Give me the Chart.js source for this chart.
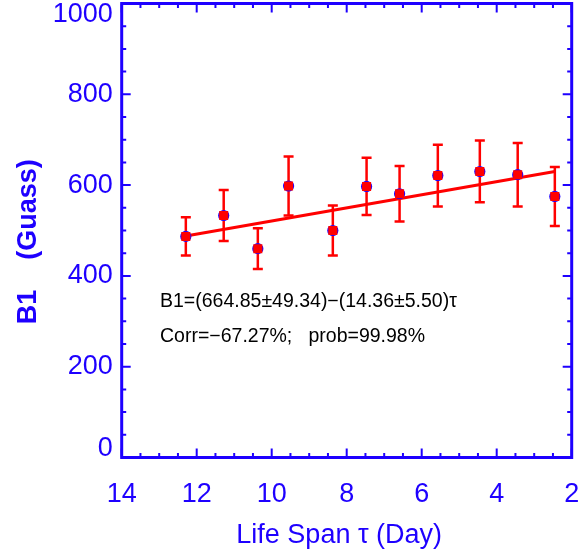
<!DOCTYPE html>
<html>
<head>
<meta charset="utf-8">
<script src="https://cdn.jsdelivr.net/npm/chart.js@4"></script>
<style>
html,body{margin:0;padding:0;background:#fff;}
canvas{display:block;}
</style>
</head>
<body>
<canvas id="c" width="584" height="558"></canvas>
<script>
// ---- data ----
const lifeSpan = [12.29, 11.28, 10.37, 9.55, 8.37, 7.47, 6.59, 5.57, 4.45, 3.44, 2.45];
const b1Values = [487, 533, 460, 598, 500, 597, 581, 621, 630, 623, 575];
const b1Errors = [42, 56, 45, 65, 55, 63, 61, 68, 68, 70, 65];
const fitX = [12.29, 2.45];
const fitY = [488, 630];
const yTicks = [0, 200, 400, 600, 800, 1000];
const xTicks = [14, 12, 10, 8, 6, 4, 2];
const fitText = 'B1=(664.85\u00b149.34)\u2212(14.36\u00b15.50)\u03c4';
const corrText = 'Corr=\u221267.27%;   prob=99.98%';

const BLUE = 'rgb(30,0,255)';
const RED = 'rgb(255,0,0)';
const FONT = "'Liberation Sans', Arial, sans-serif";

const pts = lifeSpan.map((x, i) => ({x: x, y: b1Values[i]}));

function zeroPad(s) { s.paddingTop = 0; s.paddingBottom = 0; s.paddingLeft = 0; s.paddingRight = 0; }

const decor = {
  id: 'decor',
  beforeDatasetsDraw(chart) {
    const {ctx} = chart;
    const xs = chart.scales.x, ys = chart.scales.y;
    ctx.save();
    ctx.strokeStyle = RED;
    ctx.lineWidth = 2.5;
    lifeSpan.forEach((x, i) => {
      const px = xs.getPixelForValue(x);
      const top = ys.getPixelForValue(b1Values[i] + b1Errors[i]);
      const bot = ys.getPixelForValue(b1Values[i] - b1Errors[i]);
      ctx.beginPath();
      ctx.moveTo(px, top); ctx.lineTo(px, bot);
      ctx.moveTo(px - 5, top); ctx.lineTo(px + 5, top);
      ctx.moveTo(px - 5, bot); ctx.lineTo(px + 5, bot);
      ctx.stroke();
    });
    ctx.restore();
  },
  afterDraw(chart) {
    const {ctx, chartArea: a} = chart;
    const xs = chart.scales.x, ys = chart.scales.y;
    ctx.save();
    ctx.strokeStyle = BLUE;
    ctx.lineWidth = 2;
    ctx.beginPath();
    for (let v = 0; v <= 1000; v += 50) {
      const len = (v % 200 === 0) ? 9 : 4.5;
      const py = ys.getPixelForValue(v);
      ctx.moveTo(a.left, py); ctx.lineTo(a.left + len, py);
      ctx.moveTo(a.right, py); ctx.lineTo(a.right - len, py);
    }
    for (let v = 2; v <= 14.001; v += 0.5) {
      const len = (Math.abs(v % 2) < 1e-6) ? 9 : 4.5;
      const px = xs.getPixelForValue(v);
      ctx.moveTo(px, a.bottom); ctx.lineTo(px, a.bottom - len);
      ctx.moveTo(px, a.top); ctx.lineTo(px, a.top + len);
    }
    ctx.stroke();
    ctx.lineWidth = 3;
    ctx.strokeRect(a.left, a.top, a.right - a.left, a.bottom - a.top);
    ctx.fillStyle = '#000';
    ctx.font = '19.5px ' + FONT;
    ctx.textBaseline = 'middle';
    ctx.textAlign = 'left';
    ctx.fillText(fitText, 160, 302);
    ctx.fillText(corrText, 160, 337);
    ctx.restore();
  }
};

new Chart(document.getElementById('c'), {
  type: 'scatter',
  data: {
    datasets: [
      {
        label: 'B1',
        data: pts,
        pointStyle: 'rect',
        pointRadius: 6.4,
        backgroundColor: RED,
        borderColor: RED,
        borderWidth: 0
      },
      {
        label: 'B1 outline',
        data: pts,
        pointStyle: 'circle',
        pointRadius: 5.6,
        backgroundColor: BLUE,
        borderColor: BLUE,
        borderWidth: 0
      },
      {
        label: 'fit',
        data: fitX.map((x, i) => ({x: x, y: fitY[i]})),
        showLine: true,
        borderColor: RED,
        borderWidth: 3,
        pointRadius: 0,
        fill: false
      }
    ]
  },
  options: {
    responsive: false,
    devicePixelRatio: 1,
    animation: false,
    events: [],
    layout: {autoPadding: false, padding: {left: 0, top: 3.5, right: 12.3, bottom: 0}},
    plugins: {legend: {display: false}, tooltip: {enabled: false}},
    scales: {
      x: {
        type: 'linear',
        reverse: true,
        min: 2, max: 14,
        afterFit: s => { s.height = 100.5; zeroPad(s); },
        afterBuildTicks: s => { s.ticks = xTicks.map(v => ({value: v})); },
        grid: {display: false, drawTicks: false},
        border: {display: false},
        ticks: {color: BLUE, font: {family: FONT, size: 27}, padding: 21, maxRotation: 0, autoSkip: false},
        title: {display: true, text: 'Life Span \u03c4 (Day)  ', color: BLUE,
                font: {family: FONT, size: 27}, padding: {top: 0, bottom: 6}}
      },
      y: {
        type: 'linear',
        min: 0, max: 1000,
        afterFit: s => { s.width = 121.7; zeroPad(s); },
        afterBuildTicks: s => { s.ticks = yTicks.map(v => ({value: v})); },
        grid: {display: false, drawTicks: false},
        border: {display: false},
        ticks: {
          color: BLUE,
          padding: 9,
          autoSkip: false,
          callback: v => v === 1000 ? ['', '1000'] : (v === 0 ? ['0', ''] : String(v)),
          font: ctx => {
            const v = ctx.tick ? ctx.tick.value : null;
            let lh = 1.2;
            if (v === 1000) lh = '23px';
            if (v === 0) lh = '18px';
            return {family: FONT, size: 27, lineHeight: lh};
          }
        },
        title: {display: true, text: 'B1    (Guass)   ', color: BLUE,
                font: {family: FONT, size: 27, weight: 'bold'}, padding: {top: 12, bottom: 0}}
      }
    }
  },
  plugins: [decor]
});
</script>
</body>
</html>
